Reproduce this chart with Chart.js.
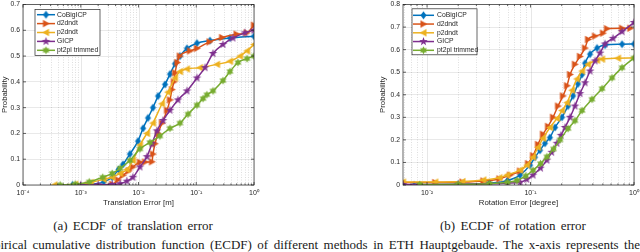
<!DOCTYPE html>
<html>
<head>
<meta charset="utf-8">
<script src="https://cdn.jsdelivr.net/npm/chart.js@4.4.1/dist/chart.umd.min.js"></script>
<style>
  html, body { margin: 0; padding: 0; background: #fff; }
  body { width: 640px; height: 252px; position: relative; overflow: hidden; }
  .plot { position: absolute; top: 0; height: 212px; }
  #wrapA { left: 0; width: 262px; }
  #wrapB { left: 370px; width: 270px; }
  .cap { position: absolute; top: 219px; width: 220px; text-align: center; font: 13px/13px 'Liberation Serif', 'Times New Roman', serif; word-spacing: 2px; color: #1a1a1a; white-space: nowrap; }
  #capA { left: 23px; }
  #capB { left: 403px; }
  #para { position: absolute; top: 238px; left: -22px; width: 662px; height: 14px; overflow: hidden; font: 13px/13px 'Liberation Serif', 'Times New Roman', serif; text-align: justify; text-align-last: justify; color: #1a1a1a; }
</style>
</head>
<body>
<div class="plot" id="wrapA"><canvas id="chartA"></canvas></div>
<div class="plot" id="wrapB"><canvas id="chartB"></canvas></div>
<div class="cap" id="capA">(a) ECDF of translation error</div>
<div class="cap" id="capB">(b) ECDF of rotation error</div>
<div id="para">empirical cumulative distribution function (ECDF) of different methods in ETH Hauptgebaude. The x-axis represents the</div>
<script>
document.addEventListener('DOMContentLoaded', function() {
  // legenda e cores (padrao MATLAB)
  const methodNames = ['CoBigICP', 'd2dndt', 'p2dndt', 'GICP', 'pt2pl trimmed'];
  const methodColors = ['#0072BD', '#D95319', '#EDB120', '#7E2F8E', '#77AC30'];
  const methodMarkers = ['diamond', 'right', 'left', 'penta', 'hexa'];

  // (a) erro de translacao [m]
  const trCoBigICPx = [0.00072, 0.0015, 0.0025, 0.0035, 0.0045, 0.0054, 0.0071, 0.0098, 0.012, 0.0146, 0.0178, 0.0218, 0.0288, 0.0351, 0.0428, 0.0523, 0.069, 0.103, 0.173, 0.384, 1.0];
  const trCoBigICPy = [0, 0.003, 0.012, 0.03, 0.06, 0.08, 0.12, 0.17, 0.22, 0.26, 0.30, 0.345, 0.39, 0.43, 0.47, 0.50, 0.53, 0.55, 0.56, 0.57, 0.577];
  const trD2dndtx = [0.00134, 0.0035, 0.0044, 0.0054, 0.0068, 0.008, 0.0106, 0.013, 0.0171, 0.0178, 0.0193, 0.0218, 0.0255, 0.0312, 0.0351, 0.038, 0.041, 0.043, 0.047, 0.052, 0.078, 0.103, 0.17, 0.28, 0.5, 0.75, 1.0];
  const trD2dndty = [0, 0.003, 0.02, 0.038, 0.055, 0.07, 0.088, 0.089, 0.09, 0.12, 0.16, 0.20, 0.24, 0.29, 0.33, 0.37, 0.40, 0.435, 0.475, 0.50, 0.52, 0.53, 0.555, 0.572, 0.585, 0.59, 0.62];
  const trP2dndtx = [0.00035, 0.0008, 0.0015, 0.0025, 0.0035, 0.0048, 0.0063, 0.008, 0.0106, 0.014, 0.0178, 0.0255, 0.0324, 0.0428, 0.0523, 0.069, 0.116, 0.229, 0.384, 0.573, 0.757, 1.0];
  const trP2dndty = [0, 0.003, 0.01, 0.022, 0.03, 0.045, 0.06, 0.095, 0.155, 0.20, 0.24, 0.315, 0.36, 0.415, 0.44, 0.45, 0.455, 0.468, 0.48, 0.50, 0.52, 0.545];
  const trGICPx = [0.001, 0.002, 0.0035, 0.0048, 0.0063, 0.008, 0.0106, 0.014, 0.0171, 0.0209, 0.0265, 0.0351, 0.0483, 0.069, 0.103, 0.142, 0.195, 0.29, 0.432, 0.698, 1.0];
  const trGICPy = [0, 0.001, 0.002, 0.005, 0.015, 0.03, 0.07, 0.11, 0.16, 0.21, 0.25, 0.29, 0.33, 0.365, 0.415, 0.455, 0.51, 0.545, 0.57, 0.59, 0.60];
  const trPt2plx = [0.00044, 0.0008, 0.0014, 0.0024, 0.0035, 0.0048, 0.0071, 0.0106, 0.0158, 0.0235, 0.0351, 0.0523, 0.072, 0.103, 0.131, 0.153, 0.195, 0.29, 0.384, 0.528, 0.757, 1.0];
  const trPt2ply = [0, 0.003, 0.012, 0.03, 0.045, 0.065, 0.095, 0.14, 0.165, 0.19, 0.22, 0.24, 0.275, 0.31, 0.335, 0.35, 0.365, 0.405, 0.44, 0.475, 0.49, 0.50];

  // (b) erro de rotacao [graus]
  const rotCoBigICPx = [0.0075, 0.02, 0.04, 0.06, 0.0792, 0.0989, 0.1105, 0.1235, 0.138, 0.154, 0.1725, 0.2015, 0.2303, 0.2575, 0.2875, 0.3146, 0.3363, 0.3757, 0.4395, 0.525, 0.766, 1.0];
  const rotCoBigICPy = [0, 0.003, 0.008, 0.02, 0.044, 0.088, 0.123, 0.154, 0.185, 0.21, 0.255, 0.30, 0.35, 0.395, 0.448, 0.49, 0.54, 0.58, 0.607, 0.62, 0.624, 0.625];
  const rotD2dndtx = [0.00586, 0.012, 0.022, 0.035, 0.05, 0.0634, 0.0792, 0.0946, 0.1057, 0.118, 0.132, 0.1476, 0.165, 0.1844, 0.206, 0.2253, 0.241, 0.269, 0.3006, 0.3363, 0.3595, 0.42, 0.502, 0.548, 0.766, 0.92];
  const rotD2dndty = [0.011, 0.011, 0.013, 0.018, 0.027, 0.044, 0.062, 0.095, 0.13, 0.18, 0.225, 0.26, 0.30, 0.35, 0.395, 0.44, 0.49, 0.535, 0.57, 0.607, 0.645, 0.66, 0.673, 0.693, 0.695, 0.695];
  const rotP2dndtx = [0.00586, 0.012, 0.022, 0.035, 0.05, 0.0593, 0.0792, 0.0925, 0.1057, 0.118, 0.132, 0.1543, 0.1803, 0.2015, 0.2253, 0.252, 0.281, 0.3146, 0.3595, 0.4395, 0.491, 0.70, 1.0];
  const rotP2dndty = [0.013, 0.013, 0.015, 0.022, 0.032, 0.044, 0.066, 0.088, 0.123, 0.167, 0.207, 0.255, 0.295, 0.33, 0.365, 0.42, 0.47, 0.505, 0.535, 0.553, 0.558, 0.562, 0.563];
  const rotGICPx = [0.00586, 0.02, 0.04, 0.06, 0.0794, 0.092, 0.1057, 0.125, 0.144, 0.16, 0.18, 0.197, 0.2156, 0.241, 0.269, 0.3006, 0.3363, 0.3757, 0.42, 0.4696, 0.525, 0.627, 0.766, 1.0];
  const rotGICPy = [0.002, 0.003, 0.005, 0.008, 0.012, 0.025, 0.044, 0.075, 0.11, 0.145, 0.185, 0.22, 0.255, 0.30, 0.35, 0.405, 0.453, 0.505, 0.55, 0.585, 0.625, 0.65, 0.68, 0.72];
  const rotPt2plx = [0.0085, 0.02, 0.04, 0.06, 0.074, 0.09, 0.1057, 0.125, 0.144, 0.167, 0.193, 0.2303, 0.269, 0.3146, 0.3926, 0.491, 0.613, 0.766, 1.0];
  const rotPt2ply = [0.002, 0.003, 0.006, 0.012, 0.02, 0.04, 0.065, 0.095, 0.125, 0.16, 0.20, 0.25, 0.285, 0.33, 0.38, 0.427, 0.475, 0.52, 0.563];

  // rotulos dos eixos
  const trTickExps = [-4, -3, -2, -1, 0];
  const rotTickExps = [-2, -1, 0];

  const fontFam = "'Liberation Sans', Arial, Helvetica, sans-serif";
  const axisColor = '#262626';

  // desenha os marcadores do MATLAB num canvas pequeno
  function marker(kind, color) {
    const c = document.createElement('canvas');
    c.width = 11; c.height = 11;
    const g = c.getContext('2d');
    const m = 5.5;
    g.fillStyle = color;
    g.beginPath();
    if (kind === 'diamond') {
      g.moveTo(m, m - 4); g.lineTo(m + 3, m); g.lineTo(m, m + 4); g.lineTo(m - 3, m);
    } else if (kind === 'right') {
      g.moveTo(m + 3.8, m); g.lineTo(m - 3, m - 3.7); g.lineTo(m - 3, m + 3.7);
    } else if (kind === 'left') {
      g.moveTo(m - 3.8, m); g.lineTo(m + 3, m - 3.7); g.lineTo(m + 3, m + 3.7);
    } else {
      const n = kind === 'penta' ? 5 : 6;
      const ro = kind === 'penta' ? 4.5 : 4, ri = kind === 'penta' ? 1.8 : 2.2;
      for (let k = 0; k < 2 * n; k++) {
        const r = k % 2 === 0 ? ro : ri;
        const a = -Math.PI / 2 + k * Math.PI / n;
        const px = m + r * Math.cos(a), py = m + r * Math.sin(a);
        if (k === 0) g.moveTo(px, py); else g.lineTo(px, py);
      }
    }
    g.closePath();
    g.fill();
    return c;
  }
  const markers = methodMarkers.map((k, i) => marker(k, methodColors[i]));

  const sup = { '-': '\u207B', '0': '\u2070', '1': '\u00B9', '2': '\u00B2', '3': '\u00B3', '4': '\u2074' };
  function decadeLabel(v, exps) {
    const e = Math.log10(v);
    const r = Math.round(e);
    if (Math.abs(e - r) > 1e-6 || !exps.includes(r)) return '';
    return '10' + String(r).split('').map(ch => sup[ch]).join('');
  }

  function logTicks(scale) {
    const ticks = [];
    for (let e = -5; e <= 0; e++) {
      for (let k = 1; k <= 9; k++) {
        const v = parseFloat((k * Math.pow(10, e)).toPrecision(3));
        if (v >= scale.min * 0.999 && v <= scale.max * 1.001) ticks.push({ value: v, major: k === 1 });
      }
    }
    scale.ticks = ticks;
  }

  // grade, caixa e marcas internas como no MATLAB
  const framePlugin = {
    id: 'matFrame',
    beforeDatasetsDraw(chart) {
      const { ctx, chartArea: a } = chart;
      const x = chart.scales.x;
      ctx.save();
      ctx.lineWidth = 0.7;
      x.ticks.forEach(t => {
        const px = Math.round(x.getPixelForValue(t.value)) + 0.5;
        ctx.strokeStyle = t.major ? 'rgba(38,38,38,0.16)' : 'rgba(38,38,38,0.22)';
        ctx.setLineDash(t.major ? [] : [1, 1.5]);
        ctx.beginPath(); ctx.moveTo(px, a.top); ctx.lineTo(px, a.bottom); ctx.stroke();
      });
      ctx.restore();
    },
    afterDatasetsDraw(chart) {
      const { ctx, chartArea: a } = chart;
      const x = chart.scales.x, y = chart.scales.y;
      ctx.save();
      ctx.strokeStyle = axisColor;
      ctx.lineWidth = 0.7;
      ctx.strokeRect(a.left, a.top, a.right - a.left, a.bottom - a.top);
      ctx.beginPath();
      x.ticks.forEach(t => {
        const px = x.getPixelForValue(t.value);
        const len = t.major ? 3 : 1.6;
        ctx.moveTo(px, a.bottom); ctx.lineTo(px, a.bottom - len);
        ctx.moveTo(px, a.top); ctx.lineTo(px, a.top + len);
      });
      y.ticks.forEach(t => {
        const py = y.getPixelForValue(t.value);
        ctx.moveTo(a.left, py); ctx.lineTo(a.left + 3, py);
        ctx.moveTo(a.right, py); ctx.lineTo(a.right - 3, py);
      });
      ctx.stroke();
      ctx.restore();
    }
  };

  const legendPlugin = {
    id: 'matLegend',
    afterDraw(chart, args, o) {
      const { ctx, chartArea: a } = chart;
      const bx = a.left + o.dx, by = a.top + o.dy;
      ctx.save();
      ctx.fillStyle = '#fff';
      ctx.fillRect(bx, by, o.w, o.h);
      ctx.strokeStyle = axisColor;
      ctx.lineWidth = 0.7;
      ctx.strokeRect(bx, by, o.w, o.h);
      chart.data.datasets.forEach((ds, i) => {
        const yy = by + o.first + i * o.step;
        ctx.strokeStyle = ds.borderColor;
        ctx.lineWidth = 1.5;
        ctx.beginPath(); ctx.moveTo(bx + o.l0, yy); ctx.lineTo(bx + o.l1, yy); ctx.stroke();
        const img = ds.pointStyle;
        ctx.drawImage(img, bx + (o.l0 + o.l1) / 2 - img.width / 2, yy - img.height / 2);
        ctx.fillStyle = axisColor;
        ctx.font = '6.8px ' + fontFam;
        ctx.textBaseline = 'middle';
        ctx.fillText(ds.label, bx + o.tx, yy);
      });
      ctx.restore();
    }
  };

  function makeChart(id, cfg) {
    const datasets = methodNames.map((name, i) => ({
      label: name,
      data: cfg.xs[i].map((x, j) => ({ x: x, y: cfg.ys[i][j] })),
      borderColor: methodColors[i],
      backgroundColor: methodColors[i],
      borderWidth: 1.5,
      pointStyle: markers[i],
      pointRadius: 3,
      pointHoverRadius: 3,
      cubicInterpolationMode: 'monotone',
      order: 5 - i
    }));
    return new Chart(document.getElementById(id), {
      type: 'line',
      data: { datasets: datasets },
      plugins: [framePlugin, legendPlugin],
      options: {
        responsive: true,
        maintainAspectRatio: false,
        animation: false,
        events: [],
        layout: { padding: cfg.padding },
        plugins: {
          legend: { display: false },
          tooltip: { enabled: false },
          matLegend: cfg.legend
        },
        scales: {
          x: {
            type: 'logarithmic',
            min: cfg.xMin,
            max: 1,
            afterBuildTicks: logTicks,
            afterFit: s => { s.height = 27; s.paddingLeft = 0; s.paddingRight = 0; },
            grid: { drawOnChartArea: false, drawTicks: false },
            border: { display: false },
            ticks: {
              autoSkip: false, maxRotation: 0, padding: 4, color: axisColor,
              font: { family: fontFam, size: 7 },
              callback: v => decadeLabel(v, cfg.tickExps)
            },
            title: {
              display: true, text: cfg.xTitle, color: axisColor,
              font: { family: fontFam, size: 7.8 }, padding: { top: 0, bottom: 4.5 }
            }
          },
          y: {
            min: 0,
            max: cfg.yMax,
            afterFit: s => { s.width = cfg.yWidth; s.paddingTop = 0; s.paddingBottom = 0; },
            grid: { color: 'rgba(38,38,38,0.15)', lineWidth: 0.7, drawTicks: false },
            border: { display: false },
            ticks: {
              stepSize: 0.1, padding: 3, color: axisColor,
              font: { family: fontFam, size: 6.8 },
              callback: v => v === 0 ? '0' : v.toFixed(1)
            },
            title: {
              display: true, text: 'Probability', color: axisColor,
              font: { family: fontFam, size: 7.8 }, padding: { top: cfg.yTitlePad, bottom: 0 }
            }
          }
        }
      }
    });
  }

  makeChart('chartA', {
    xs: [trCoBigICPx, trD2dndtx, trP2dndtx, trGICPx, trPt2plx],
    ys: [trCoBigICPy, trD2dndty, trP2dndty, trGICPy, trPt2ply],
    xMin: 1e-4, yMax: 0.7, tickExps: trTickExps,
    xTitle: 'Translation Error [m]',
    yWidth: 23, yTitlePad: 0,
    padding: { top: 3, right: 8, left: 0, bottom: 0 },
    legend: { dx: 12, dy: 5, w: 65, h: 46, first: 5.2, step: 8.9, l0: 2, l1: 20, tx: 22 }
  });

  makeChart('chartB', {
    xs: [rotCoBigICPx, rotD2dndtx, rotP2dndtx, rotGICPx, rotPt2plx],
    ys: [rotCoBigICPy, rotD2dndty, rotP2dndty, rotGICPy, rotPt2ply],
    xMin: 0.00586, yMax: 0.8, tickExps: rotTickExps,
    xTitle: 'Rotation Error [degree]',
    yWidth: 33, yTitlePad: 8.3,
    padding: { top: 3, right: 6, left: 0, bottom: 0 },
    legend: { dx: 9, dy: 4.3, w: 65, h: 46, first: 6.5, step: 8.75, l0: 1, l1: 22, tx: 25 }
  });
});
</script>
</body>
</html>
